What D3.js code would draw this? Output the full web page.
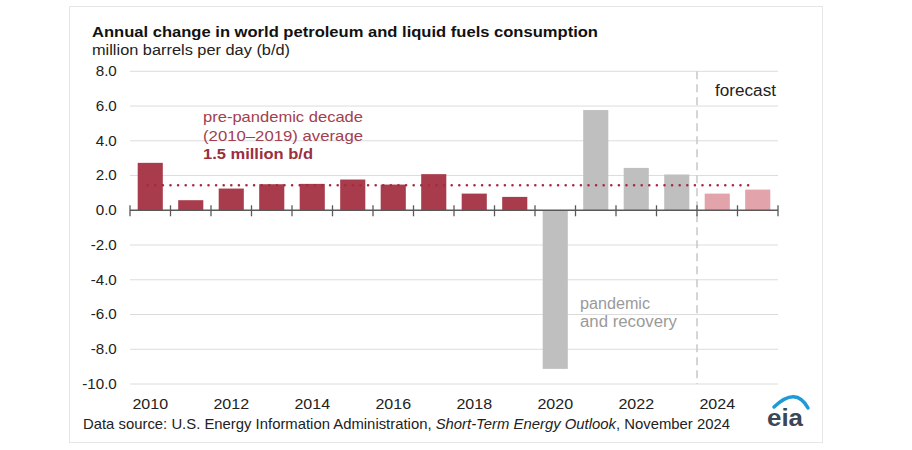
<!DOCTYPE html>
<html>
<head>
<meta charset="utf-8">
<script src="https://cdn.jsdelivr.net/npm/d3@7"></script>
<style>
  body { margin: 0; background: #fff; }
  svg { display: block; font-family: "Liberation Sans", Arial, sans-serif; }
</style>
</head>
<body>
<svg id="chart" width="912" height="450"></svg>
<script>
const years = [2010,2011,2012,2013,2014,2015,2016,2017,2018,2019,2020,2021,2022,2023,2024,2025];
const values = [2.73,0.58,1.25,1.5,1.52,1.77,1.48,2.08,0.96,0.77,-9.13,5.77,2.44,2.06,0.96,1.19];
const groups = ["pre","pre","pre","pre","pre","pre","pre","pre","pre","pre","pandemic","pandemic","pandemic","pandemic","forecast","forecast"];
const yTicks = [8,6,4,2,0,-2,-4,-6,-8,-10];
const xLabelYears = [2010,2012,2014,2016,2018,2020,2022,2024];
const average = 1.5;
const avgStartYear = 2010, avgEndYear = 2025;
const colors = {pre: "#a83c4c", pandemic: "#bfbfbf", forecast: "#e2a3aa"};

(function () {
const svg = d3.select("#chart");
const pLeft = 130, pRight = 778, pTop = 71.3, pBottom = 384;

function fit(sel, w) {
  return sel.attr("textLength", w).attr("lengthAdjust", "spacingAndGlyphs");
}

// frame
svg.append("rect").attr("x", 69.5).attr("y", 6.5).attr("width", 753).attr("height", 436)
  .attr("fill", "none").attr("stroke", "#e6e6e6").attr("stroke-width", 1);

const x = d3.scaleBand().domain(years).range([pLeft, pRight]).paddingInner(0.38).paddingOuter(0.19);
const y = d3.scaleLinear().domain([-10, 8]).range([pBottom, pTop]);

// gridlines
svg.append("g").selectAll("line").data(yTicks.filter(d => d !== 0)).join("line")
  .attr("x1", pLeft).attr("x2", pRight)
  .attr("y1", d => y(d)).attr("y2", d => y(d))
  .attr("stroke", "#dcdcdc").attr("stroke-width", 1);

// y labels
const yAxis = d3.axisLeft(y).tickValues(yTicks).tickFormat(d => d.toFixed(1)).tickSize(0).tickPadding(12);
svg.append("g").attr("transform", `translate(${pLeft},0)`).call(yAxis)
  .call(g => g.select(".domain").remove())
  .call(g => g.selectAll("text").attr("font-size", 13.8).attr("fill", "#222")
      .attr("font-family", "Liberation Sans, Arial, sans-serif")
      .attr("transform", "scale(1.1,1)"));

// forecast dashed line
const step = x.step();
const fx = pLeft + step * years.indexOf(2024);
svg.append("line").attr("x1", fx).attr("x2", fx).attr("y1", y(8)).attr("y2", y(-10))
  .attr("stroke", "#c8c8c8").attr("stroke-width", 1.5).attr("stroke-dasharray", "8,5");

// bars
svg.append("g").selectAll("rect").data(years).join("rect")
  .attr("x", d => x(d))
  .attr("width", x.bandwidth())
  .attr("y", (d, i) => y(Math.max(0, values[i])))
  .attr("height", (d, i) => Math.abs(y(values[i]) - y(0)))
  .attr("fill", (d, i) => colors[groups[i]]);

// zero axis with ticks at band edges
const xAxisG = svg.append("g");
xAxisG.append("line").attr("x1", pLeft).attr("x2", pRight).attr("y1", y(0)).attr("y2", y(0))
  .attr("stroke", "#595959").attr("stroke-width", 1.5);
const edges = d3.range(years.length + 1).map(i => pLeft + i * step);
xAxisG.selectAll(".tk").data(edges).join("line").attr("class", "tk")
  .attr("x1", d => d).attr("x2", d => d)
  .attr("y1", y(0) - 5).attr("y2", y(0) + 6)
  .attr("stroke", "#595959").attr("stroke-width", 1.3);

// average dotted line
svg.append("line")
  .attr("x1", x(avgStartYear) + 10).attr("x2", x(avgEndYear) + 10)
  .attr("y1", y(average) + 1).attr("y2", y(average) + 1)
  .attr("stroke", "#a52a3c").attr("stroke-width", 2.6)
  .attr("stroke-linecap", "round").attr("stroke-dasharray", "0,7.6");

// x labels
const xAxis = d3.axisBottom(x).tickValues(xLabelYears).tickSize(0).tickPadding(0);
svg.append("g").attr("transform", `translate(0,${pBottom + 11})`).call(xAxis)
  .call(g => g.select(".domain").remove())
  .call(g => g.selectAll("text").attr("font-size", 15).attr("fill", "#222").attr("dy", "0.9em")
      .attr("font-family", "Liberation Sans, Arial, sans-serif")
      .attr("transform", "scale(1.07,1)"));

// titles
fit(svg.append("text").attr("x", 92).attr("y", 36.5).attr("font-size", 15).attr("font-weight", "bold")
  .attr("fill", "#111").text("Annual change in world petroleum and liquid fuels consumption"), 506);
fit(svg.append("text").attr("x", 92).attr("y", 55).attr("font-size", 14)
  .attr("fill", "#222").text("million barrels per day (b/d)"), 198);

// annotations
const ann = svg.append("g").attr("fill", "#a2404f").attr("font-size", 15);
fit(ann.append("text").attr("x", 203).attr("y", 122).text("pre-pandemic decade"), 160);
fit(ann.append("text").attr("x", 203).attr("y", 140.5).text("(2010\u20132019) average"), 160);
fit(ann.append("text").attr("x", 203).attr("y", 159).attr("font-weight", "bold").attr("fill", "#9a2f40").text("1.5 million b/d"), 110);

fit(svg.append("text").attr("x", 715).attr("y", 96).attr("font-size", 16).attr("fill", "#222").text("forecast"), 61);

const pan = svg.append("g").attr("fill", "#9a9a9a").attr("font-size", 16);
fit(pan.append("text").attr("x", 580).attr("y", 309).text("pandemic"), 70);
fit(pan.append("text").attr("x", 580).attr("y", 327).text("and recovery"), 97);

// source
const src = svg.append("text").attr("x", 83).attr("y", 429).attr("font-size", 14.4).attr("fill", "#222");
src.append("tspan").text("Data source: U.S. Energy Information Administration, ");
src.append("tspan").attr("font-style", "italic").text("Short-Term Energy Outlook");
src.append("tspan").text(", November 2024");
fit(src, 647);

// eia logo
svg.append("path").attr("d", "M774,407 Q796,386 808,408")
  .attr("fill", "none").attr("stroke", "#1e9ad6").attr("stroke-width", 3.5).attr("stroke-linecap", "round");
fit(svg.append("text").attr("x", 767).attr("y", 426).attr("font-size", 23).attr("font-weight", "bold")
  .attr("fill", "#3b4656").text("eia"), 36);
})();
</script>
</body>
</html>
